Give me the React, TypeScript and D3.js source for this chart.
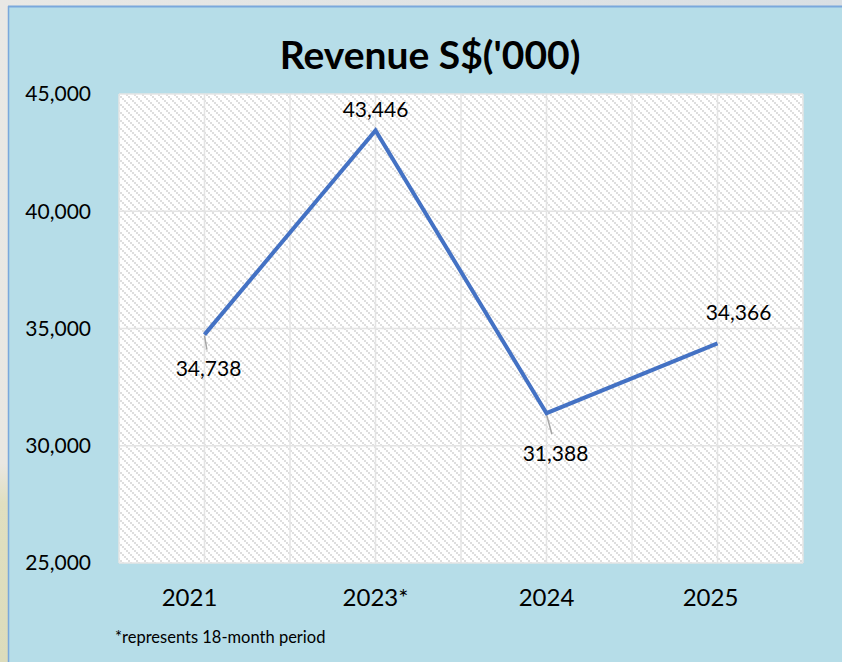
import React from "react";
import * as d3 from "d3";

const categories: string[] = ["2021", "2023*", "2024", "2025"];
const revenue: number[] = [34738, 43446, 31388, 34366];
const yTicks: number[] = [25000, 30000, 35000, 40000, 45000];
const title = "Revenue S$('000)";
const footnote = "*represents 18-month period";

// label placement offsets (style only)
const labelOffsets = [
  { dx: 4, dy: 34, leader: true },
  { dx: 0, dy: -21, leader: false },
  { dx: 9, dy: 40, leader: true },
  { dx: 21, dy: -31, leader: false },
];
const catLabelShift = [-15, 0, 0, -7];

const W = 842;
const H = 662;
const plot = { left: 119, right: 803, top: 94, bottom: 563 };
const FONT = "Lato, 'Open Sans', sans-serif";

export default function App() {
  const x = d3
    .scaleBand<string>()
    .domain(categories)
    .range([plot.left, plot.right])
    .paddingInner(0)
    .paddingOuter(0);
  const bw = x.bandwidth();
  const cx = (c: string) => (x(c) as number) + bw / 2;
  const y = d3.scaleLinear().domain([25000, 45000]).range([plot.bottom, plot.top]);
  const fmt = d3.format(",");

  const line = d3
    .line<number>()
    .x((_, i) => cx(categories[i]))
    .y((d) => y(d));

  const vGrid: number[] = [];
  categories.forEach((c) => {
    vGrid.push(x(c) as number);
    vGrid.push(cx(c));
  });
  vGrid.push(plot.right);

  return (
    <svg
      width={W}
      height={H}
      style={{ position: "absolute", left: 0, top: 0, display: "block" }}
      fontFamily={FONT}
    >
      <defs>
        <linearGradient id="topbg" x1="0" x2="1" y1="0" y2="0">
          <stop offset="0" stopColor="#e9e8e5" />
          <stop offset="1" stopColor="#d9dfe4" />
        </linearGradient>
        <linearGradient id="leftbg" x1="0" x2="0" y1="0" y2="1">
          <stop offset="0" stopColor="#e9e8e5" />
          <stop offset="0.7" stopColor="#e9e7e2" />
          <stop offset="0.76" stopColor="#e0dfc0" />
          <stop offset="1" stopColor="#dcdcbc" />
        </linearGradient>
        <pattern id="hatch" width={8} height={8} patternUnits="userSpaceOnUse">
          <rect width={8} height={8} fill="#ffffff" />
          {[0, 2, 4, 6].map((i) => (
            <rect key={i} x={i} y={i} width={2} height={2} fill="#dedede" />
          ))}
        </pattern>
      </defs>

      {/* page background */}
      <rect x={0} y={0} width={W} height={H} fill="url(#leftbg)" />
      <rect x={0} y={0} width={W} height={6} fill="url(#topbg)" />

      {/* chart area */}
      <rect x={8} y={6} width={W - 8} height={H - 6} fill="#b6dde8" />
      <line x1={8} y1={6.5} x2={W} y2={6.5} stroke="#7aa8dc" strokeWidth={2} />
      <line x1={8.5} y1={6} x2={8.5} y2={H} stroke="#7aa8dc" strokeWidth={1.5} />

      {/* title */}
      <text
        x={430}
        y={69}
        textAnchor="middle"
        fontSize={39}
        fontWeight="bold"
        fill="#000"
      >
        {title}
      </text>

      {/* plot area */}
      <rect
        x={plot.left}
        y={plot.top}
        width={plot.right - plot.left}
        height={plot.bottom - plot.top}
        fill="url(#hatch)"
      />

      {/* gridlines */}
      {yTicks.map((t) => (
        <line
          key={"h" + t}
          x1={plot.left}
          x2={plot.right}
          y1={y(t)}
          y2={y(t)}
          stroke="#e4e4e4"
          strokeWidth={1.5}
        />
      ))}
      {vGrid.map((g, i) => (
        <line
          key={"v" + i}
          x1={g}
          x2={g}
          y1={plot.top}
          y2={plot.bottom}
          stroke="#e4e4e4"
          strokeWidth={1.5}
        />
      ))}

      {/* y tick labels */}
      {yTicks.map((t) => (
        <text
          key={"yt" + t}
          x={91}
          y={y(t)}
          dy="0.35em"
          textAnchor="end"
          fontSize={21}
          fill="#000"
        >
          {fmt(t)}
        </text>
      ))}

      {/* x tick labels */}
      {categories.map((c, i) => (
        <text
          key={"xt" + c}
          x={cx(c) + catLabelShift[i]}
          y={606}
          textAnchor="middle"
          fontSize={24}
          fill="#000"
        >
          {c}
        </text>
      ))}

      {/* leader lines */}
      {revenue.map((v, i) => {
        const o = labelOffsets[i];
        if (!o.leader) return null;
        const px = cx(categories[i]);
        const py = y(v);
        return (
          <line
            key={"ld" + i}
            x1={px}
            y1={py + 1}
            x2={px + o.dx * 0.6}
            y2={py + o.dy - 19}
            stroke="#a6a6a6"
            strokeWidth={1.5}
          />
        );
      })}

      {/* line */}
      <path
        d={line(revenue) as string}
        fill="none"
        stroke="#4472c4"
        strokeWidth={4}
        strokeLinejoin="miter"
      />

      {/* data labels */}
      {revenue.map((v, i) => {
        const o = labelOffsets[i];
        return (
          <text
            key={"dl" + i}
            x={cx(categories[i]) + o.dx}
            y={y(v) + o.dy}
            dy="0.35em"
            textAnchor="middle"
            fontSize={21}
            fill="#000"
          >
            {fmt(v)}
          </text>
        );
      })}

      {/* footnote */}
      <text x={115} y={643} fontSize={16.5} fill="#000">
        {footnote}
      </text>
    </svg>
  );
}
